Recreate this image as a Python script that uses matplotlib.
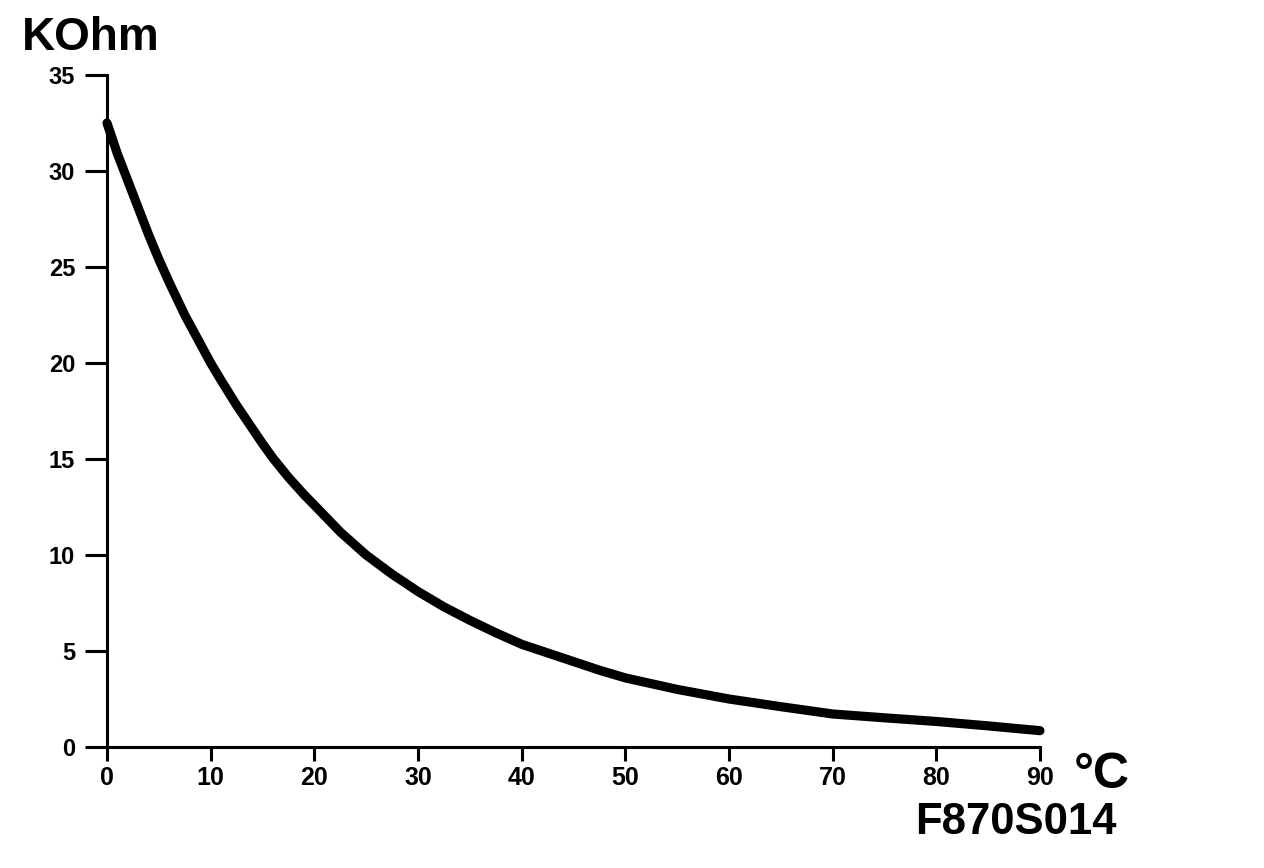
import matplotlib
matplotlib.use("Agg")
import matplotlib.pyplot as plt

temps = [0, 1, 2.5, 4, 5, 6, 7.5, 9, 10, 11, 12.5, 14, 15, 16, 17.5, 19, 20,
         22.5, 25, 27.5, 30, 32.5, 35, 37.5, 40, 42.5, 45, 47.5, 50,
         55, 60, 65, 70, 75, 80, 85, 90]
kohm = [32.5, 30.9, 28.8, 26.7, 25.4, 24.2, 22.5, 21.0, 20.0, 19.1, 17.8, 16.6, 15.8, 15.05, 14.05, 13.15, 12.6,
        11.2, 10.0, 9.0, 8.1, 7.3, 6.6, 5.95, 5.35, 4.9, 4.45, 4.0, 3.6,
        3.0, 2.5, 2.1, 1.72, 1.52, 1.33, 1.1, 0.85]
xticks = [0, 10, 20, 30, 40, 50, 60, 70, 80, 90]
yticks = [0, 5, 10, 15, 20, 25, 30, 35]

fam = ['Liberation Sans', 'DejaVu Sans']

fig = plt.figure(figsize=(12.64, 8.68), dpi=100)
ax = fig.add_axes([107/1264, 1-747/868, (1040-107)/1264, (747-75)/868])
ax.plot(temps, kohm, color='black', lw=6.6, solid_capstyle='round', solid_joinstyle='round', clip_on=False)
ax.set_xlim(0, 90)
ax.set_ylim(0, 35)
ax.set_xticks(xticks)
ax.set_yticks(yticks)
for s in ['top', 'right']:
    ax.spines[s].set_visible(False)
for s in ['left', 'bottom']:
    ax.spines[s].set_linewidth(2.2)
ax.tick_params(axis='y', direction='out', length=16, width=2.2, pad=7)
ax.tick_params(axis='x', direction='out', length=10, width=2.2, pad=4)
for lab in ax.get_yticklabels():
    lab.set_fontfamily(fam)
    lab.set_fontweight('bold')
    lab.set_fontsize(17)
for lab in ax.get_xticklabels():
    lab.set_fontfamily(fam)
    lab.set_fontweight('bold')
    lab.set_fontsize(18)

fig.text(22/1264, 1-50/868, 'KOhm', fontsize=33, fontweight='bold', family=fam, ha='left', va='baseline')
fig.text(1074/1264, 1-788/868, '°C', fontsize=36, fontweight='bold', family=fam, ha='left', va='baseline')
fig.text(1117/1264, 1-834/868, 'F870S014', fontsize=31.5, fontweight='bold', family=fam, ha='right', va='baseline')

fig.savefig('out.png', dpi=100, facecolor='white')
